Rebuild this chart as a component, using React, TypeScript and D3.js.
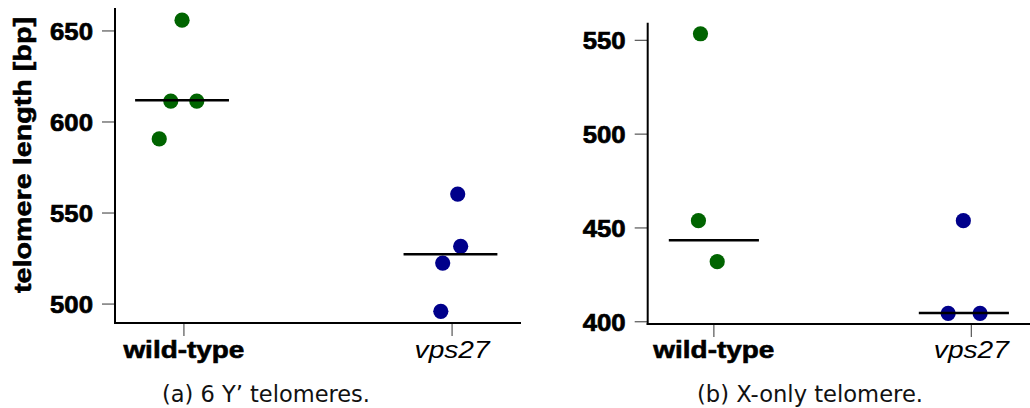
import React from "react";
import * as d3 from "d3";

const categories = ["wild-type", "vps27"];

// Panel (a): 6 Y' telomeres
const aWildType = [655.9, 611.5, 611.5, 590.7];
const aWildTypeJitter = [-0.007, -0.049, 0.048, -0.092];
const aVps27 = [560.4, 531.7, 522.5, 496.0];
const aVps27Jitter = [0.021, 0.032, -0.035, -0.042];
const aMedians = [612.0, 527.3];
const aMedianShift = [-0.007, -0.006];
const aTicks = [500, 550, 600, 650];
const aDomain = [489.6, 662.6];

// Panel (b): X-only telomere
const bWildType = [553.5, 453.9, 432.0];
const bWildTypeJitter = [-0.052, -0.06, 0.013];
const bVps27 = [453.9, 404.5, 404.5];
const bVps27Jitter = [-0.031, -0.09, 0.034];
const bMedians = [443.4, 404.6];
const bMedianShift = [0.0, -0.029];
const bTicks = [400, 450, 500, 550];
const bDomain = [398.8, 559.4];

const captions = ["(a) 6 Y\u2019 telomeres.", "(b) X-only telomere."];
const yLabel = "telomere length [bp]";

const colors = ["#006400", "#00008b"];

type PanelProps = {
  left: number;
  right: number;
  top: number;
  bottom: number;
  domain: number[];
  ticks: number[];
  groups: number[][];
  jitters: number[][];
  medians: number[];
  medianShift: number[];
  caption: string;
  captionX: number;
  captionW: number;
};

const BOLD = "'Liberation Sans', Arial, Helvetica, sans-serif";

function Panel(p: PanelProps) {
  const y = d3.scaleLinear().domain(p.domain).range([p.bottom, p.top]);
  const x = d3
    .scalePoint<string>()
    .domain(categories)
    .range([p.left, p.right])
    .padding(0.257);
  const step = x.step();
  return (
    <g>
      {/* y ticks */}
      {p.ticks.map((t) => (
        <g key={t}>
          <line
            x1={p.left - 13}
            x2={p.left}
            y1={y(t)}
            y2={y(t)}
            stroke="#555"
            strokeWidth={1.2}
          />
          <text
            x={p.left - 22}
            y={y(t) + 9}
            textAnchor="end"
            fontFamily={BOLD}
            fontWeight="bold"
            fontSize={24.5}
            stroke="#000"
            strokeWidth={0.7}
            textLength={43}
            lengthAdjust="spacingAndGlyphs"
          >
            {t}
          </text>
        </g>
      ))}
      {/* x ticks */}
      {categories.map((c, i) => (
        <g key={c}>
          <line
            x1={x(c)}
            x2={x(c)}
            y1={p.bottom}
            y2={p.bottom + 13}
            stroke="#555"
            strokeWidth={1.2}
          />
          <text
            x={x(c)}
            y={357.5}
            textAnchor="middle"
            fontFamily={BOLD}
            fontWeight={i === 0 ? "bold" : "normal"}
            fontStyle={i === 0 ? "normal" : "italic"}
            fontSize={24}
            stroke={i === 0 ? "#000" : "none"}
            strokeWidth={0.6}
            textLength={i === 0 ? 121 : 75}
            lengthAdjust="spacingAndGlyphs"
          >
            {c}
          </text>
        </g>
      ))}
      {/* axes */}
      <line x1={p.left} x2={p.left} y1={p.top} y2={p.bottom + 1} stroke="#000" strokeWidth={2} />
      <line x1={p.left - 1} x2={p.right} y1={p.bottom} y2={p.bottom} stroke="#000" strokeWidth={2} />
      {/* points */}
      {p.groups.map((vals, gi) =>
        vals.map((v, j) => (
          <circle
            key={`${gi}-${j}`}
            cx={(x(categories[gi]) as number) + p.jitters[gi][j] * step}
            cy={y(v)}
            r={7.6}
            fill={colors[gi]}
          />
        ))
      )}
      {/* medians */}
      {p.medians.map((m, gi) => {
        const cx = (x(categories[gi]) as number) + p.medianShift[gi] * step;
        return (
          <line
            key={gi}
            x1={cx - 0.175 * step}
            x2={cx + 0.175 * step}
            y1={y(m)}
            y2={y(m)}
            stroke="#000"
            strokeWidth={2.5}
          />
        );
      })}
      <text
        x={p.captionX}
        y={401.5}
        textAnchor="middle"
        fontFamily="'DejaVu Sans', sans-serif"
        fontSize={23.5}
        fill="#111"
        textLength={p.captionW}
        lengthAdjust="spacingAndGlyphs"
      >
        {p.caption}
      </text>
    </g>
  );
}

export default function App() {
  return (
    <svg
      width={1030}
      height={408}
      style={{ position: "absolute", left: 0, top: 0, background: "#fff" }}
    >
      <rect width={1030} height={408} fill="#fff" />
      <text
        transform="translate(30.5,155) rotate(-90)"
        textAnchor="middle"
        fontFamily={BOLD}
        fontWeight="bold"
        fontSize={24}
        stroke="#000"
        strokeWidth={0.6}
        textLength={276}
        lengthAdjust="spacingAndGlyphs"
      >
        {yLabel}
      </text>
      <Panel
        left={115}
        right={521}
        top={8}
        bottom={323}
        domain={aDomain}
        ticks={aTicks}
        groups={[aWildType, aVps27]}
        jitters={[aWildTypeJitter, aVps27Jitter]}
        medians={aMedians}
        medianShift={aMedianShift}
        caption={captions[0]}
        captionX={266}
        captionW={208}
      />
      <Panel
        left={647.7}
        right={1037.5}
        top={22.7}
        bottom={324}
        domain={bDomain}
        ticks={bTicks}
        groups={[bWildType, bVps27]}
        jitters={[bWildTypeJitter, bVps27Jitter]}
        medians={bMedians}
        medianShift={bMedianShift}
        caption={captions[1]}
        captionX={810}
        captionW={226}
      />
    </svg>
  );
}
